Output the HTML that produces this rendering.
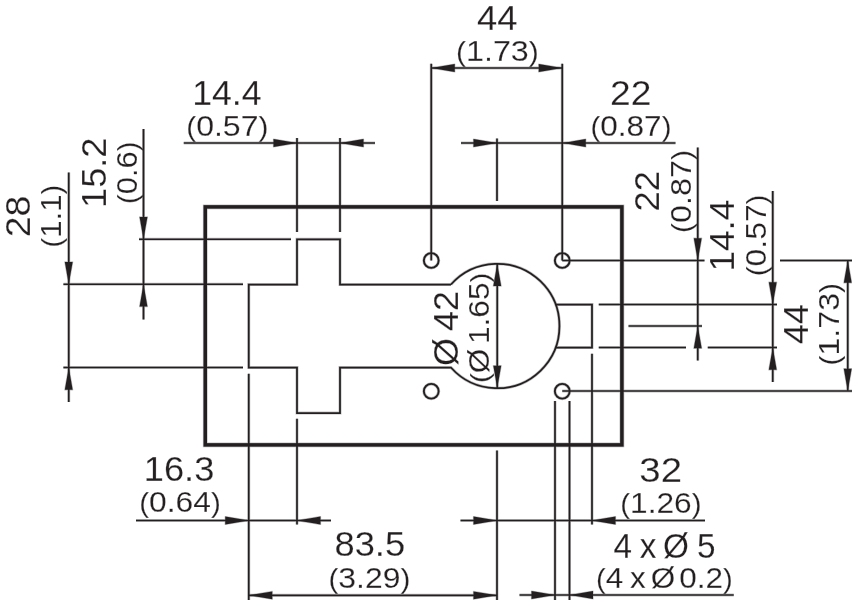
<!DOCTYPE html>
<html><head><meta charset="utf-8"><title>Dimensional drawing</title>
<style>
html,body{margin:0;padding:0;background:#fff;width:852px;height:600px;overflow:hidden;}
#drawing{width:852px;height:600px;overflow:hidden;position:relative;}
svg{display:block;}
svg line,svg path,svg circle,svg #d rect{stroke:#231f20;fill:none;}
svg .a{fill:#231f20;stroke:#231f20;stroke-width:var(--h);stroke-linejoin:round;}
svg text{font-family:"Liberation Sans",sans-serif;fill:#231f20;stroke:var(--ts);stroke-width:var(--tw);vector-effect:non-scaling-stroke;stroke-linejoin:round;}
#main{--h:0px;--ts:#fff;--tw:0.3px;opacity:0.99;}
#halo{--h:1.3px;--ts:transparent;--tw:0px;opacity:0.28;}
</style></head><body>
<div id="drawing">
<svg width="860" height="608" viewBox="0 0 860 608">
<rect x="0" y="0" width="860" height="608" style="fill:#fff;stroke:none"/>
<g id="main"><g id="d">
<g id="labels">
<text transform="translate(0,104.95) scale(1.0181,1)" font-size="35.0"><tspan x="188.73">14.4</tspan></text>
<text transform="translate(0,136.15) scale(1.0621,1)" font-size="30.2"><tspan x="175.31"><tspan font-size="28.09">(</tspan>0.57<tspan font-size="28.09">)</tspan></tspan></text>
<text transform="translate(0,29.85) scale(1.0395,1)" font-size="35.0"><tspan x="458.94">44</tspan></text>
<text transform="translate(0,61.15) scale(1.0689,1)" font-size="30.2"><tspan x="426.60"><tspan font-size="28.09">(</tspan>1.73<tspan font-size="28.09">)</tspan></tspan></text>
<text transform="translate(0,105.35) scale(1.0832,1)" font-size="34.3"><tspan x="563.13">22</tspan></text>
<text transform="translate(0,136.45) scale(1.0586,1)" font-size="29.8"><tspan x="557.84"><tspan font-size="27.71">(</tspan>0.87<tspan font-size="27.71">)</tspan></tspan></text>
<text transform="translate(0,481.15) scale(1.0564,1)" font-size="34.3"><tspan x="136.12">16.3</tspan></text>
<text transform="translate(0,512.45) scale(1.0668,1)" font-size="29.8"><tspan x="130.50"><tspan font-size="27.71">(</tspan>0.64<tspan font-size="27.71">)</tspan></tspan></text>
<text transform="translate(0,556.25) scale(1.0463,1)" font-size="34.7"><tspan x="319.70">83.5</tspan></text>
<text transform="translate(0,587.55) scale(1.0581,1)" font-size="30.2"><tspan x="310.38"><tspan font-size="28.09">(</tspan>3.29<tspan font-size="28.09">)</tspan></tspan></text>
<text transform="translate(0,482.45) scale(1.1060,1)" font-size="34.7"><tspan x="578.10">32</tspan></text>
<text transform="translate(0,512.85) scale(1.0486,1)" font-size="30.2"><tspan x="591.46"><tspan font-size="28.09">(</tspan>1.26<tspan font-size="28.09">)</tspan></tspan></text>
<text transform="translate(0,557.95) scale(0.9600,1)" font-size="34.7"><tspan x="639.02">4</tspan> <tspan x="666.41">x</tspan> <tspan x="690.76">Ø</tspan> <tspan x="726.00">5</tspan></text>
<text transform="translate(0,587.75) scale(1.0600,1)" font-size="29.7"><tspan x="562.19"><tspan font-size="27.62">(</tspan>4</tspan> <tspan x="594.45">x</tspan> <tspan x="614.00">Ø</tspan> <tspan x="640.84">0.2<tspan font-size="27.62">)</tspan></tspan></text>
<text transform="translate(30.45,0) rotate(-90) scale(1.0775,1)" font-size="34.7"><tspan x="-220.25">28</tspan></text>
<text transform="translate(60.90,0) rotate(-90) scale(1.0314,1)" font-size="30.2"><tspan x="-239.92"><tspan font-size="28.09">(</tspan>1.1<tspan font-size="28.09">)</tspan></tspan></text>
<text transform="translate(106.45,0) rotate(-90) scale(1.0419,1)" font-size="34.7"><tspan x="-199.54">15.2</tspan></text>
<text transform="translate(136.65,0) rotate(-90) scale(1.0261,1)" font-size="30.2"><tspan x="-198.74"><tspan font-size="28.09">(</tspan>0.6<tspan font-size="28.09">)</tspan></tspan></text>
<text transform="translate(659.45,0) rotate(-90) scale(1.0479,1)" font-size="34.7"><tspan x="-201.79">22</tspan></text>
<text transform="translate(690.75,0) rotate(-90) scale(1.0716,1)" font-size="30.2"><tspan x="-217.45"><tspan font-size="28.09">(</tspan>0.87<tspan font-size="28.09">)</tspan></tspan></text>
<text transform="translate(734.45,0) rotate(-90) scale(1.0613,1)" font-size="34.7"><tspan x="-255.77">14.4</tspan></text>
<text transform="translate(765.85,0) rotate(-90) scale(1.0554,1)" font-size="30.2"><tspan x="-261.79"><tspan font-size="28.09">(</tspan>0.57<tspan font-size="28.09">)</tspan></tspan></text>
<text transform="translate(807.95,0) rotate(-90) scale(1.0321,1)" font-size="34.7"><tspan x="-333.23">44</tspan></text>
<text transform="translate(839.35,0) rotate(-90) scale(1.0648,1)" font-size="30.2"><tspan x="-343.25"><tspan font-size="28.09">(</tspan>1.73<tspan font-size="28.09">)</tspan></tspan></text>
<text transform="translate(458.05,0) rotate(-90) scale(1.0487,1)" font-size="34.2"><tspan x="-348.98">Ø</tspan> <tspan x="-315.57">42</tspan></text>
<text transform="translate(489.35,0) rotate(-90) scale(1.1033,1)" font-size="28.7"><tspan x="-347.26"><tspan font-size="26.69">(</tspan>Ø</tspan> <tspan x="-311.86">1.65<tspan font-size="26.69">)</tspan></tspan></text>
</g>
<g id="geometry">
<line x1="68.75" y1="172.5" x2="68.75" y2="402" style="stroke-width:calc(1.7px + var(--h))"/>
<line x1="143.5" y1="129" x2="143.5" y2="319.5" style="stroke-width:calc(1.7px + var(--h))"/>
<line x1="297" y1="138" x2="297" y2="232" style="stroke-width:calc(1.7px + var(--h))"/>
<line x1="340" y1="138" x2="340" y2="232" style="stroke-width:calc(1.7px + var(--h))"/>
<line x1="431.25" y1="63.75" x2="431.25" y2="260.5" style="stroke-width:calc(1.7px + var(--h))"/>
<line x1="562.25" y1="63.75" x2="562.25" y2="260.5" style="stroke-width:calc(1.7px + var(--h))"/>
<line x1="497" y1="138.5" x2="497" y2="201" style="stroke-width:calc(1.7px + var(--h))"/>
<line x1="697.75" y1="147.5" x2="697.75" y2="360.5" style="stroke-width:calc(1.7px + var(--h))"/>
<line x1="772.75" y1="191" x2="772.75" y2="382" style="stroke-width:calc(1.7px + var(--h))"/>
<line x1="847.75" y1="260.5" x2="847.75" y2="390.75" style="stroke-width:calc(1.7px + var(--h))"/>
<line x1="248.75" y1="373.75" x2="248.75" y2="608" style="stroke-width:calc(1.7px + var(--h))"/>
<line x1="297" y1="418.75" x2="297" y2="524.5" style="stroke-width:calc(1.7px + var(--h))"/>
<line x1="497" y1="450.5" x2="497" y2="608" style="stroke-width:calc(1.7px + var(--h))"/>
<line x1="555" y1="401" x2="555" y2="608" style="stroke-width:calc(1.7px + var(--h))"/>
<line x1="569.5" y1="401" x2="569.5" y2="608" style="stroke-width:calc(1.7px + var(--h))"/>
<line x1="592" y1="353.75" x2="592" y2="524.5" style="stroke-width:calc(1.7px + var(--h))"/>
<line x1="497.25" y1="263.75" x2="497.25" y2="388" style="stroke-width:calc(1.7px + var(--h))"/>
<line x1="63.4" y1="284.25" x2="243" y2="284.25" style="stroke-width:calc(1.7px + var(--h))"/>
<line x1="63.4" y1="367.5" x2="243" y2="367.5" style="stroke-width:calc(1.7px + var(--h))"/>
<line x1="139" y1="239.25" x2="291" y2="239.25" style="stroke-width:calc(1.7px + var(--h))"/>
<line x1="183.75" y1="143" x2="375" y2="143" style="stroke-width:calc(1.7px + var(--h))"/>
<line x1="431.25" y1="68" x2="562.25" y2="68" style="stroke-width:calc(1.7px + var(--h))"/>
<line x1="461" y1="143" x2="675.5" y2="143" style="stroke-width:calc(1.7px + var(--h))"/>
<line x1="562.25" y1="260.5" x2="704.5" y2="260.5" style="stroke-width:calc(1.7px + var(--h))"/>
<line x1="780" y1="260.5" x2="860" y2="260.5" style="stroke-width:calc(1.7px + var(--h))"/>
<line x1="598.75" y1="304.5" x2="777" y2="304.5" style="stroke-width:calc(1.7px + var(--h))"/>
<line x1="628.5" y1="326" x2="702" y2="326" style="stroke-width:calc(1.7px + var(--h))"/>
<line x1="598.75" y1="347.5" x2="686" y2="347.5" style="stroke-width:calc(1.7px + var(--h))"/>
<line x1="707.75" y1="347.5" x2="777" y2="347.5" style="stroke-width:calc(1.7px + var(--h))"/>
<line x1="562.25" y1="391" x2="860" y2="391" style="stroke-width:calc(1.7px + var(--h))"/>
<line x1="136" y1="520.5" x2="331" y2="520.5" style="stroke-width:calc(1.7px + var(--h))"/>
<line x1="460.5" y1="520.5" x2="705" y2="520.5" style="stroke-width:calc(1.7px + var(--h))"/>
<line x1="248.75" y1="595.3" x2="497" y2="595.3" style="stroke-width:calc(1.7px + var(--h))"/>
<line x1="519.5" y1="595" x2="733.75" y2="595" style="stroke-width:calc(1.7px + var(--h))"/>
<polygon class="a" points="68.75,284.25 64.85,261.95 72.65,261.95"/>
<polygon class="a" points="68.75,367.50 64.85,389.80 72.65,389.80"/>
<polygon class="a" points="143.50,239.25 139.60,216.95 147.40,216.95"/>
<polygon class="a" points="143.50,284.25 139.60,306.55 147.40,306.55"/>
<polygon class="a" points="297.00,143.00 273.50,139.10 273.50,146.90"/>
<polygon class="a" points="340.00,143.00 363.50,139.10 363.50,146.90"/>
<polygon class="a" points="431.25,68.00 454.75,64.10 454.75,71.90"/>
<polygon class="a" points="562.25,68.00 538.75,64.10 538.75,71.90"/>
<polygon class="a" points="497.00,143.00 473.50,139.10 473.50,146.90"/>
<polygon class="a" points="562.25,143.00 585.75,139.10 585.75,146.90"/>
<polygon class="a" points="697.75,260.50 693.85,238.20 701.65,238.20"/>
<polygon class="a" points="697.75,326.00 693.85,348.30 701.65,348.30"/>
<polygon class="a" points="772.75,304.50 768.85,282.20 776.65,282.20"/>
<polygon class="a" points="772.75,347.50 768.85,369.80 776.65,369.80"/>
<polygon class="a" points="847.75,260.50 843.85,282.80 851.65,282.80"/>
<polygon class="a" points="847.75,391.00 843.85,368.70 851.65,368.70"/>
<polygon class="a" points="248.75,520.50 225.25,516.60 225.25,524.40"/>
<polygon class="a" points="297.00,520.50 320.50,516.60 320.50,524.40"/>
<polygon class="a" points="497.00,520.50 473.50,516.60 473.50,524.40"/>
<polygon class="a" points="592.00,520.50 615.50,516.60 615.50,524.40"/>
<polygon class="a" points="248.75,595.30 272.25,591.40 272.25,599.20"/>
<polygon class="a" points="497.00,595.30 473.50,591.40 473.50,599.20"/>
<polygon class="a" points="555.00,595.00 531.50,591.10 531.50,598.90"/>
<polygon class="a" points="569.50,595.00 593.00,591.10 593.00,598.90"/>
<polygon class="a" points="497.25,263.75 493.35,286.05 501.15,286.05"/>
<polygon class="a" points="497.25,388.00 493.35,365.70 501.15,365.70"/>
<path style="stroke-width:calc(1.75px + var(--h))" d="M450.92,284.5 H340 V239.25 H297 V284.5 H248.75 V367.5 H297 V413 H340 V367.5 H450.92 A62.2,62.2 0 1 0 450.92,284.5"/>
<path style="stroke-width:calc(1.75px + var(--h))" d="M555.62,304.5 H592 V347.5 H555.62"/>
<circle cx="431.25" cy="260.5" r="7.4" style="stroke-width:calc(1.9px + var(--h))"/>
<circle cx="562.25" cy="260.5" r="7.4" style="stroke-width:calc(1.9px + var(--h))"/>
<circle cx="431.25" cy="391.25" r="7.4" style="stroke-width:calc(1.9px + var(--h))"/>
<circle cx="562.25" cy="391.25" r="7.4" style="stroke-width:calc(1.9px + var(--h))"/>
<rect x="205.25" y="206.9" width="416.65" height="238" style="stroke-width:calc(3.5px + var(--h))"/>
</g>
</g></g>
<use id="halo" href="#d"/>
</svg>
</div>
</body></html>
